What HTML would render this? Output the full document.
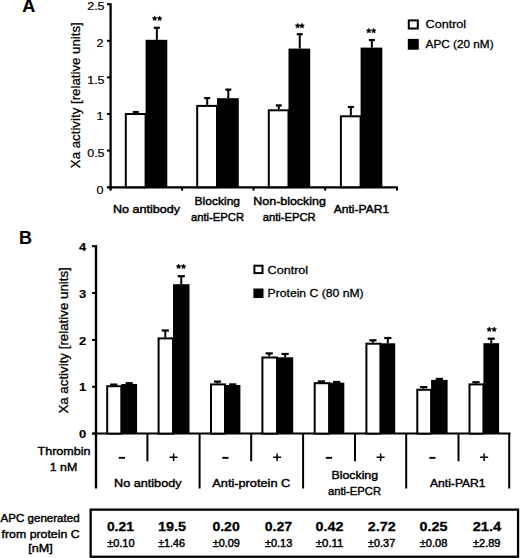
<!DOCTYPE html>
<html><head><meta charset="utf-8"><style>
html,body{margin:0;padding:0;background:#fff;width:520px;height:558px;overflow:hidden}
svg{display:block}
text{font-family:"Liberation Sans", sans-serif;fill:#000;stroke:#000;stroke-width:0.45px}
text.b{stroke-width:0.15px}
</style></head><body>
<svg width="520" height="558" viewBox="0 0 520 558">
<rect x="0" y="0" width="520" height="558" fill="#fff"/>
<text x="22.30" y="12.40" font-size="18" font-weight="bold" class="b" text-anchor="start">A</text>
<line x1="110.60" y1="3.20" x2="110.60" y2="190.60" stroke="#000" stroke-width="2.3"/>
<line x1="107.00" y1="187.20" x2="110.60" y2="187.20" stroke="#000" stroke-width="2"/>
<text x="103.60" y="193.50" font-size="11.4" style="stroke-width:0.2px" text-anchor="end" textLength="7.00" lengthAdjust="spacingAndGlyphs">0</text>
<line x1="107.00" y1="150.60" x2="110.60" y2="150.60" stroke="#000" stroke-width="2"/>
<text x="104.60" y="156.90" font-size="11.4" style="stroke-width:0.2px" text-anchor="end" textLength="17.40" lengthAdjust="spacingAndGlyphs">0.5</text>
<line x1="107.00" y1="114.00" x2="110.60" y2="114.00" stroke="#000" stroke-width="2"/>
<text x="103.60" y="120.30" font-size="11.4" style="stroke-width:0.2px" text-anchor="end" textLength="7.00" lengthAdjust="spacingAndGlyphs">1</text>
<line x1="107.00" y1="77.40" x2="110.60" y2="77.40" stroke="#000" stroke-width="2"/>
<text x="104.60" y="83.70" font-size="11.4" style="stroke-width:0.2px" text-anchor="end" textLength="17.40" lengthAdjust="spacingAndGlyphs">1.5</text>
<line x1="107.00" y1="40.80" x2="110.60" y2="40.80" stroke="#000" stroke-width="2"/>
<text x="103.60" y="47.10" font-size="11.4" style="stroke-width:0.2px" text-anchor="end" textLength="7.00" lengthAdjust="spacingAndGlyphs">2</text>
<line x1="107.00" y1="4.20" x2="110.60" y2="4.20" stroke="#000" stroke-width="2"/>
<text x="104.60" y="9.80" font-size="11.4" style="stroke-width:0.2px" text-anchor="end" textLength="17.40" lengthAdjust="spacingAndGlyphs">2.5</text>
<line x1="107.00" y1="187.40" x2="398.00" y2="187.40" stroke="#000" stroke-width="2.2"/>
<line x1="182.10" y1="187.20" x2="182.10" y2="190.60" stroke="#000" stroke-width="2"/>
<line x1="253.50" y1="187.20" x2="253.50" y2="190.60" stroke="#000" stroke-width="2"/>
<line x1="325.20" y1="187.20" x2="325.20" y2="190.60" stroke="#000" stroke-width="2"/>
<line x1="397.00" y1="187.20" x2="397.00" y2="190.60" stroke="#000" stroke-width="2"/>
<line x1="135.80" y1="113.00" x2="135.80" y2="112.00" stroke="#000" stroke-width="2"/>
<line x1="132.80" y1="112.00" x2="138.80" y2="112.00" stroke="#000" stroke-width="2.2"/>
<line x1="156.85" y1="39.80" x2="156.85" y2="27.80" stroke="#000" stroke-width="2"/>
<line x1="153.85" y1="27.80" x2="159.85" y2="27.80" stroke="#000" stroke-width="2.2"/>
<rect x="125.80" y="114.00" width="19.80" height="73.20" fill="#fff" stroke="#000" stroke-width="2"/>
<rect x="145.60" y="39.80" width="21.70" height="147.40" fill="#000"/>
<line x1="207.20" y1="104.90" x2="207.20" y2="98.10" stroke="#000" stroke-width="2"/>
<line x1="204.20" y1="98.10" x2="210.20" y2="98.10" stroke="#000" stroke-width="2.2"/>
<line x1="228.30" y1="98.20" x2="228.30" y2="89.60" stroke="#000" stroke-width="2"/>
<line x1="225.30" y1="89.60" x2="231.30" y2="89.60" stroke="#000" stroke-width="2.2"/>
<rect x="197.20" y="105.90" width="19.80" height="81.30" fill="#fff" stroke="#000" stroke-width="2"/>
<rect x="217.00" y="98.20" width="21.80" height="89.00" fill="#000"/>
<line x1="278.75" y1="109.30" x2="278.75" y2="105.40" stroke="#000" stroke-width="2"/>
<line x1="275.75" y1="105.40" x2="281.75" y2="105.40" stroke="#000" stroke-width="2.2"/>
<line x1="299.75" y1="48.60" x2="299.75" y2="34.20" stroke="#000" stroke-width="2"/>
<line x1="296.75" y1="34.20" x2="302.75" y2="34.20" stroke="#000" stroke-width="2.2"/>
<rect x="268.80" y="110.30" width="19.70" height="76.90" fill="#fff" stroke="#000" stroke-width="2"/>
<rect x="288.50" y="48.60" width="21.70" height="138.60" fill="#000"/>
<line x1="350.85" y1="115.30" x2="350.85" y2="107.00" stroke="#000" stroke-width="2"/>
<line x1="347.85" y1="107.00" x2="353.85" y2="107.00" stroke="#000" stroke-width="2.2"/>
<line x1="371.85" y1="47.60" x2="371.85" y2="40.10" stroke="#000" stroke-width="2"/>
<line x1="368.85" y1="40.10" x2="374.85" y2="40.10" stroke="#000" stroke-width="2.2"/>
<rect x="340.90" y="116.30" width="19.70" height="70.90" fill="#fff" stroke="#000" stroke-width="2"/>
<rect x="360.60" y="47.60" width="21.70" height="139.60" fill="#000"/>
<polygon points="154.63,15.90 155.37,17.42 157.05,17.66 155.84,18.84 156.12,20.51 154.63,19.72 153.13,20.51 153.41,18.84 152.20,17.66 153.88,17.42" fill="#000" stroke="#000" stroke-width="0.5" stroke-linejoin="round"/>
<polygon points="159.57,15.90 160.32,17.42 162.00,17.66 160.79,18.84 161.07,20.51 159.57,19.72 158.08,20.51 158.36,18.84 157.15,17.66 158.83,17.42" fill="#000" stroke="#000" stroke-width="0.5" stroke-linejoin="round"/>
<polygon points="297.63,23.30 298.37,24.82 300.05,25.06 298.84,26.24 299.12,27.91 297.63,27.12 296.13,27.91 296.41,26.24 295.20,25.06 296.88,24.82" fill="#000" stroke="#000" stroke-width="0.5" stroke-linejoin="round"/>
<polygon points="301.97,23.30 302.72,24.82 304.40,25.06 303.19,26.24 303.47,27.91 301.97,27.12 300.48,27.91 300.76,26.24 299.55,25.06 301.23,24.82" fill="#000" stroke="#000" stroke-width="0.5" stroke-linejoin="round"/>
<polygon points="368.83,28.30 369.57,29.82 371.25,30.06 370.04,31.24 370.32,32.91 368.83,32.12 367.33,32.91 367.61,31.24 366.40,30.06 368.08,29.82" fill="#000" stroke="#000" stroke-width="0.5" stroke-linejoin="round"/>
<polygon points="373.67,28.30 374.42,29.82 376.10,30.06 374.89,31.24 375.17,32.91 373.67,32.12 372.18,32.91 372.46,31.24 371.25,30.06 372.93,29.82" fill="#000" stroke="#000" stroke-width="0.5" stroke-linejoin="round"/>
<rect x="408.8" y="20.4" width="9" height="8.1" fill="#fff" stroke="#000" stroke-width="2"/>
<rect x="407.80" y="38.90" width="11.00" height="10.80" fill="#000"/>
<text x="425.60" y="28.20" font-size="11.6" style="stroke-width:0.3px" text-anchor="start" textLength="40.50" lengthAdjust="spacingAndGlyphs">Control</text>
<text x="425.60" y="48.00" font-size="11.6" style="stroke-width:0.3px" text-anchor="start" textLength="68.00" lengthAdjust="spacingAndGlyphs">APC (20 nM)</text>
<text x="146.50" y="213.20" font-size="11.6" text-anchor="middle" textLength="67.00" lengthAdjust="spacingAndGlyphs">No antibody</text>
<text x="217.30" y="204.70" font-size="11.6" text-anchor="middle" textLength="45.50" lengthAdjust="spacingAndGlyphs">Blocking</text>
<text x="217.50" y="220.70" font-size="11.6" text-anchor="middle" textLength="53.00" lengthAdjust="spacingAndGlyphs">anti-EPCR</text>
<text x="289.60" y="205.00" font-size="11.6" text-anchor="middle" textLength="72.50" lengthAdjust="spacingAndGlyphs">Non-blocking</text>
<text x="289.20" y="220.70" font-size="11.6" text-anchor="middle" textLength="53.00" lengthAdjust="spacingAndGlyphs">anti-EPCR</text>
<text x="361.40" y="213.10" font-size="11.6" text-anchor="middle" textLength="55.50" lengthAdjust="spacingAndGlyphs">Anti-PAR1</text>
<text transform="translate(80.1,168.2) rotate(-90)" font-size="13.2" style="stroke-width:0.25px" textLength="146" lengthAdjust="spacingAndGlyphs">Xa activity [relative units]</text>
<text x="18.90" y="243.90" font-size="18" font-weight="bold" class="b" text-anchor="start">B</text>
<line x1="96.00" y1="245.00" x2="96.00" y2="488.50" stroke="#000" stroke-width="2.4"/>
<line x1="92.00" y1="433.60" x2="96.00" y2="433.60" stroke="#000" stroke-width="2"/>
<text x="86.30" y="438.30" font-size="11.2" font-weight="bold" class="b" text-anchor="end" textLength="7.20" lengthAdjust="spacingAndGlyphs">0</text>
<line x1="92.00" y1="386.75" x2="96.00" y2="386.75" stroke="#000" stroke-width="2"/>
<text x="86.30" y="391.45" font-size="11.2" font-weight="bold" class="b" text-anchor="end" textLength="7.20" lengthAdjust="spacingAndGlyphs">1</text>
<line x1="92.00" y1="339.90" x2="96.00" y2="339.90" stroke="#000" stroke-width="2"/>
<text x="86.30" y="344.60" font-size="11.2" font-weight="bold" class="b" text-anchor="end" textLength="7.20" lengthAdjust="spacingAndGlyphs">2</text>
<line x1="92.00" y1="293.05" x2="96.00" y2="293.05" stroke="#000" stroke-width="2"/>
<text x="86.30" y="297.75" font-size="11.2" font-weight="bold" class="b" text-anchor="end" textLength="7.20" lengthAdjust="spacingAndGlyphs">3</text>
<line x1="92.00" y1="246.20" x2="96.00" y2="246.20" stroke="#000" stroke-width="2"/>
<text x="86.30" y="250.90" font-size="11.2" font-weight="bold" class="b" text-anchor="end" textLength="7.20" lengthAdjust="spacingAndGlyphs">4</text>
<line x1="92.00" y1="433.60" x2="510.50" y2="433.60" stroke="#000" stroke-width="2"/>
<line x1="199.60" y1="433.60" x2="199.60" y2="488.50" stroke="#000" stroke-width="2"/>
<line x1="303.10" y1="433.60" x2="303.10" y2="488.50" stroke="#000" stroke-width="2"/>
<line x1="406.20" y1="433.60" x2="406.20" y2="488.50" stroke="#000" stroke-width="2"/>
<line x1="509.20" y1="433.60" x2="509.20" y2="488.50" stroke="#000" stroke-width="2"/>
<line x1="147.40" y1="433.60" x2="147.40" y2="461.30" stroke="#000" stroke-width="2"/>
<line x1="251.20" y1="433.60" x2="251.20" y2="461.30" stroke="#000" stroke-width="2"/>
<line x1="355.00" y1="433.60" x2="355.00" y2="461.30" stroke="#000" stroke-width="2"/>
<line x1="458.50" y1="433.60" x2="458.50" y2="461.30" stroke="#000" stroke-width="2"/>
<line x1="113.75" y1="385.20" x2="113.75" y2="384.60" stroke="#000" stroke-width="2"/>
<line x1="110.15" y1="384.60" x2="117.35" y2="384.60" stroke="#000" stroke-width="2.2"/>
<line x1="129.20" y1="384.00" x2="129.20" y2="383.20" stroke="#000" stroke-width="2"/>
<line x1="125.60" y1="383.20" x2="132.80" y2="383.20" stroke="#000" stroke-width="2.2"/>
<rect x="107.20" y="386.20" width="14.10" height="47.40" fill="#fff" stroke="#000" stroke-width="2"/>
<rect x="121.30" y="384.00" width="15.80" height="49.60" fill="#000"/>
<line x1="165.30" y1="337.40" x2="165.30" y2="330.50" stroke="#000" stroke-width="2"/>
<line x1="161.70" y1="330.50" x2="168.90" y2="330.50" stroke="#000" stroke-width="2.2"/>
<line x1="181.25" y1="284.20" x2="181.25" y2="276.20" stroke="#000" stroke-width="2"/>
<line x1="177.65" y1="276.20" x2="184.85" y2="276.20" stroke="#000" stroke-width="2.2"/>
<rect x="158.60" y="338.40" width="14.40" height="95.20" fill="#fff" stroke="#000" stroke-width="2"/>
<rect x="173.00" y="284.20" width="16.50" height="149.40" fill="#000"/>
<line x1="217.50" y1="383.40" x2="217.50" y2="381.60" stroke="#000" stroke-width="2"/>
<line x1="213.90" y1="381.60" x2="221.10" y2="381.60" stroke="#000" stroke-width="2.2"/>
<line x1="232.70" y1="385.00" x2="232.70" y2="384.40" stroke="#000" stroke-width="2"/>
<line x1="229.10" y1="384.40" x2="236.30" y2="384.40" stroke="#000" stroke-width="2.2"/>
<rect x="211.00" y="384.40" width="14.00" height="49.20" fill="#fff" stroke="#000" stroke-width="2"/>
<rect x="225.00" y="385.00" width="15.40" height="48.60" fill="#000"/>
<line x1="269.20" y1="356.50" x2="269.20" y2="353.40" stroke="#000" stroke-width="2"/>
<line x1="265.60" y1="353.40" x2="272.80" y2="353.40" stroke="#000" stroke-width="2.2"/>
<line x1="285.10" y1="357.30" x2="285.10" y2="354.00" stroke="#000" stroke-width="2"/>
<line x1="281.50" y1="354.00" x2="288.70" y2="354.00" stroke="#000" stroke-width="2.2"/>
<rect x="262.40" y="357.50" width="14.60" height="76.10" fill="#fff" stroke="#000" stroke-width="2"/>
<rect x="277.00" y="357.30" width="16.20" height="76.30" fill="#000"/>
<line x1="321.40" y1="382.20" x2="321.40" y2="381.40" stroke="#000" stroke-width="2"/>
<line x1="317.80" y1="381.40" x2="325.00" y2="381.40" stroke="#000" stroke-width="2.2"/>
<line x1="336.70" y1="382.70" x2="336.70" y2="382.00" stroke="#000" stroke-width="2"/>
<line x1="333.10" y1="382.00" x2="340.30" y2="382.00" stroke="#000" stroke-width="2.2"/>
<rect x="314.70" y="383.20" width="14.40" height="50.40" fill="#fff" stroke="#000" stroke-width="2"/>
<rect x="329.10" y="382.70" width="15.20" height="50.90" fill="#000"/>
<line x1="372.90" y1="342.70" x2="372.90" y2="340.30" stroke="#000" stroke-width="2"/>
<line x1="369.30" y1="340.30" x2="376.50" y2="340.30" stroke="#000" stroke-width="2.2"/>
<line x1="387.80" y1="343.30" x2="387.80" y2="338.00" stroke="#000" stroke-width="2"/>
<line x1="384.20" y1="338.00" x2="391.40" y2="338.00" stroke="#000" stroke-width="2.2"/>
<rect x="366.40" y="343.70" width="14.00" height="89.90" fill="#fff" stroke="#000" stroke-width="2"/>
<rect x="380.40" y="343.30" width="14.80" height="90.30" fill="#000"/>
<line x1="423.70" y1="388.80" x2="423.70" y2="387.10" stroke="#000" stroke-width="2"/>
<line x1="420.10" y1="387.10" x2="427.30" y2="387.10" stroke="#000" stroke-width="2.2"/>
<line x1="439.35" y1="379.90" x2="439.35" y2="378.90" stroke="#000" stroke-width="2"/>
<line x1="435.75" y1="378.90" x2="442.95" y2="378.90" stroke="#000" stroke-width="2.2"/>
<rect x="417.30" y="389.80" width="13.80" height="43.80" fill="#fff" stroke="#000" stroke-width="2"/>
<rect x="431.10" y="379.90" width="16.50" height="53.70" fill="#000"/>
<line x1="475.95" y1="383.40" x2="475.95" y2="382.20" stroke="#000" stroke-width="2"/>
<line x1="472.35" y1="382.20" x2="479.55" y2="382.20" stroke="#000" stroke-width="2.2"/>
<line x1="491.25" y1="343.20" x2="491.25" y2="338.70" stroke="#000" stroke-width="2"/>
<line x1="487.65" y1="338.70" x2="494.85" y2="338.70" stroke="#000" stroke-width="2.2"/>
<rect x="469.50" y="384.40" width="13.90" height="49.20" fill="#fff" stroke="#000" stroke-width="2"/>
<rect x="483.40" y="343.20" width="15.70" height="90.40" fill="#000"/>
<polygon points="178.63,264.00 179.37,265.52 181.05,265.76 179.84,266.94 180.12,268.61 178.63,267.82 177.13,268.61 177.41,266.94 176.20,265.76 177.88,265.52" fill="#000" stroke="#000" stroke-width="0.5" stroke-linejoin="round"/>
<polygon points="183.47,264.00 184.22,265.52 185.90,265.76 184.69,266.94 184.97,268.61 183.47,267.82 181.98,268.61 182.26,266.94 181.05,265.76 182.73,265.52" fill="#000" stroke="#000" stroke-width="0.5" stroke-linejoin="round"/>
<polygon points="489.23,326.90 489.97,328.42 491.65,328.66 490.44,329.84 490.72,331.51 489.23,330.72 487.73,331.51 488.01,329.84 486.80,328.66 488.48,328.42" fill="#000" stroke="#000" stroke-width="0.5" stroke-linejoin="round"/>
<polygon points="494.17,326.90 494.92,328.42 496.60,328.66 495.39,329.84 495.67,331.51 494.17,330.72 492.68,331.51 492.96,329.84 491.75,328.66 493.43,328.42" fill="#000" stroke="#000" stroke-width="0.5" stroke-linejoin="round"/>
<rect x="254.4" y="265.7" width="8.1" height="7.4" fill="#fff" stroke="#000" stroke-width="2"/>
<rect x="253.40" y="288.50" width="10.10" height="9.50" fill="#000"/>
<text x="267.60" y="273.90" font-size="11.6" style="stroke-width:0.3px" text-anchor="start" textLength="40.50" lengthAdjust="spacingAndGlyphs">Control</text>
<text x="267.60" y="297.40" font-size="11.6" style="stroke-width:0.3px" text-anchor="start" textLength="96.00" lengthAdjust="spacingAndGlyphs">Protein C (80 nM)</text>
<rect x="118.78" y="456.90" width="6.20" height="1.90" fill="#000"/>
<rect x="169.62" y="456.50" width="8.00" height="1.50" fill="#000"/>
<rect x="172.88" y="453.50" width="1.50" height="7.50" fill="#000"/>
<rect x="222.28" y="456.90" width="6.20" height="1.90" fill="#000"/>
<rect x="273.12" y="456.50" width="8.00" height="1.50" fill="#000"/>
<rect x="276.38" y="453.50" width="1.50" height="7.50" fill="#000"/>
<rect x="325.77" y="456.90" width="6.20" height="1.90" fill="#000"/>
<rect x="376.62" y="456.50" width="8.00" height="1.50" fill="#000"/>
<rect x="379.88" y="453.50" width="1.50" height="7.50" fill="#000"/>
<rect x="429.27" y="456.90" width="6.20" height="1.90" fill="#000"/>
<rect x="480.12" y="456.50" width="8.00" height="1.50" fill="#000"/>
<rect x="483.38" y="453.50" width="1.50" height="7.50" fill="#000"/>
<text x="64.00" y="455.00" font-size="11.6" style="stroke-width:0.42px" text-anchor="middle" textLength="53.00" lengthAdjust="spacingAndGlyphs">Thrombin</text>
<text x="63.50" y="470.70" font-size="11.6" style="stroke-width:0.42px" text-anchor="middle" textLength="27.50" lengthAdjust="spacingAndGlyphs">1 nM</text>
<text x="147.80" y="487.40" font-size="11.6" style="stroke-width:0.42px" text-anchor="middle" textLength="67.50" lengthAdjust="spacingAndGlyphs">No antibody</text>
<text x="251.30" y="487.20" font-size="11.6" style="stroke-width:0.42px" text-anchor="middle" textLength="78.00" lengthAdjust="spacingAndGlyphs">Anti-protein C</text>
<text x="354.80" y="479.40" font-size="11.6" style="stroke-width:0.42px" text-anchor="middle" textLength="46.50" lengthAdjust="spacingAndGlyphs">Blocking</text>
<text x="354.50" y="495.40" font-size="11.6" style="stroke-width:0.42px" text-anchor="middle" textLength="53.00" lengthAdjust="spacingAndGlyphs">anti-EPCR</text>
<text x="457.80" y="487.00" font-size="11.6" style="stroke-width:0.42px" text-anchor="middle" textLength="55.50" lengthAdjust="spacingAndGlyphs">Anti-PAR1</text>
<text transform="translate(67.6,413.6) rotate(-90)" font-size="13.2" style="stroke-width:0.3px" textLength="146.4" lengthAdjust="spacingAndGlyphs">Xa activity [relative units]</text>
<text x="40.10" y="521.70" font-size="11.2" style="stroke-width:0.42px" text-anchor="middle" textLength="79.00" lengthAdjust="spacingAndGlyphs">APC generated</text>
<text x="40.60" y="537.50" font-size="11.2" style="stroke-width:0.42px" text-anchor="middle" textLength="78.00" lengthAdjust="spacingAndGlyphs">from protein C</text>
<text x="40.40" y="552.00" font-size="11.2" style="stroke-width:0.42px" text-anchor="middle" textLength="24.50" lengthAdjust="spacingAndGlyphs">[nM]</text>
<rect x="90.65" y="509.65" width="427.4" height="47.1" fill="none" stroke="#000" stroke-width="2.3"/>
<text x="106.90" y="531.00" font-size="13.6" font-weight="bold" class="b" style="stroke-width:0.3px" text-anchor="start" textLength="27.00" lengthAdjust="spacingAndGlyphs">0.21</text>
<text x="107.20" y="546.70" font-size="10.4" style="stroke-width:0.45px" text-anchor="start" textLength="27.40" lengthAdjust="spacingAndGlyphs">±0.10</text>
<text x="157.90" y="531.00" font-size="13.6" font-weight="bold" class="b" style="stroke-width:0.3px" text-anchor="start" textLength="28.00" lengthAdjust="spacingAndGlyphs">19.5</text>
<text x="158.20" y="546.70" font-size="10.4" style="stroke-width:0.45px" text-anchor="start" textLength="26.80" lengthAdjust="spacingAndGlyphs">±1.46</text>
<text x="212.40" y="531.00" font-size="13.6" font-weight="bold" class="b" style="stroke-width:0.3px" text-anchor="start" textLength="27.30" lengthAdjust="spacingAndGlyphs">0.20</text>
<text x="212.70" y="546.70" font-size="10.4" style="stroke-width:0.45px" text-anchor="start" textLength="27.20" lengthAdjust="spacingAndGlyphs">±0.09</text>
<text x="264.70" y="531.00" font-size="13.6" font-weight="bold" class="b" style="stroke-width:0.3px" text-anchor="start" textLength="27.30" lengthAdjust="spacingAndGlyphs">0.27</text>
<text x="265.00" y="546.70" font-size="10.4" style="stroke-width:0.45px" text-anchor="start" textLength="27.20" lengthAdjust="spacingAndGlyphs">±0.13</text>
<text x="315.50" y="531.00" font-size="13.6" font-weight="bold" class="b" style="stroke-width:0.3px" text-anchor="start" textLength="27.90" lengthAdjust="spacingAndGlyphs">0.42</text>
<text x="315.80" y="546.70" font-size="10.4" style="stroke-width:0.45px" text-anchor="start" textLength="27.60" lengthAdjust="spacingAndGlyphs">±0.11</text>
<text x="367.80" y="531.00" font-size="13.6" font-weight="bold" class="b" style="stroke-width:0.3px" text-anchor="start" textLength="27.90" lengthAdjust="spacingAndGlyphs">2.72</text>
<text x="368.10" y="546.70" font-size="10.4" style="stroke-width:0.45px" text-anchor="start" textLength="27.10" lengthAdjust="spacingAndGlyphs">±0.37</text>
<text x="419.50" y="531.00" font-size="13.6" font-weight="bold" class="b" style="stroke-width:0.3px" text-anchor="start" textLength="27.90" lengthAdjust="spacingAndGlyphs">0.25</text>
<text x="419.80" y="546.70" font-size="10.4" style="stroke-width:0.45px" text-anchor="start" textLength="27.60" lengthAdjust="spacingAndGlyphs">±0.08</text>
<text x="472.70" y="531.00" font-size="13.6" font-weight="bold" class="b" style="stroke-width:0.3px" text-anchor="start" textLength="28.50" lengthAdjust="spacingAndGlyphs">21.4</text>
<text x="473.00" y="546.70" font-size="10.4" style="stroke-width:0.45px" text-anchor="start" textLength="27.40" lengthAdjust="spacingAndGlyphs">±2.89</text>
</svg>
</body></html>
